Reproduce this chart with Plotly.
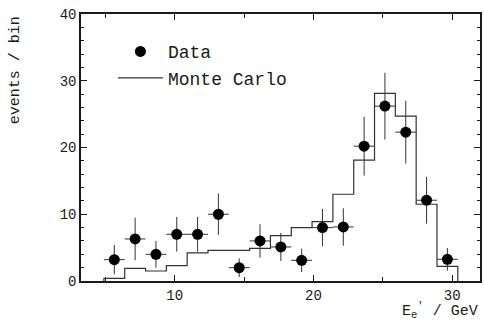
import plotly.graph_objects as go

# Data points (bin centres, values, errors)
data_x = [5.65, 7.15, 8.65, 10.15, 11.65, 13.15, 14.65, 16.15, 17.65, 19.15,
          20.65, 22.15, 23.65, 25.15, 26.65, 28.15, 29.65]
data_y = [3.2, 6.3, 4.0, 7.0, 7.0, 10.0, 2.0, 6.0, 5.1, 3.1,
          8.0, 8.1, 20.2, 26.2, 22.3, 12.1, 3.25]
data_err = [2.2, 3.2, 2.0, 2.6, 2.6, 3.1, 1.4, 2.5, 2.1, 1.75,
            2.8, 2.8, 4.4, 5.0, 4.7, 3.5, 1.7]
half_bin = [0.75] * len(data_x)

# Monte Carlo histogram (bin edges and contents)
mc_edges = [4.9, 6.4, 7.9, 9.4, 10.9, 12.4, 13.9, 15.4, 16.9, 18.4,
            19.9, 21.4, 22.9, 24.4, 25.9, 27.4, 28.9, 30.4]
mc_vals = [0.4, 1.9, 1.5, 2.3, 4.2, 4.6, 4.6, 4.9, 6.8, 8.0,
           8.9, 13.0, 18.1, 28.1, 24.7, 11.5, 2.2]

FONT = "Liberation Mono"
INK = "#1a1a1a"

mc_x = [mc_edges[0]] + mc_edges[:-1] + [mc_edges[-1]]
mc_y = [0] + mc_vals + [0]

fig = go.Figure()
fig.add_trace(go.Scatter(
    x=mc_x, y=mc_y, mode="lines", line=dict(shape="hv", color="#333", width=1.2),
    name="Monte Carlo", legendrank=2))
fig.add_trace(go.Scatter(
    x=data_x, y=data_y, mode="markers", name="Data", legendrank=1,
    marker=dict(color="black", size=11),
    error_y=dict(type="data", array=data_err, color="#333", thickness=1, width=0),
    error_x=dict(type="data", array=half_bin, color="#333", thickness=1, width=0)))

axis_common = dict(showline=True, linecolor=INK, linewidth=1.5, mirror="ticks",
                   ticks="inside", tickcolor=INK, tickwidth=1.2, showgrid=False,
                   zeroline=False, tickfont=dict(family=FONT, size=14, color=INK))
fig.update_xaxes(range=[3.25, 32], tickvals=[10, 20, 30], ticklen=6,
                 minor=dict(dtick=5, tick0=0, ticks="inside", ticklen=4, tickcolor=INK),
                 **axis_common)
fig.update_yaxes(range=[0, 40], tickvals=[0, 10, 20, 30, 40], ticklen=6,
                 minor=dict(dtick=2, tick0=0, ticks="inside", ticklen=3, tickcolor=INK),
                 **axis_common)

fig.update_layout(
    width=484, height=322,
    margin=dict(l=81, r=2, t=14, b=41),
    plot_bgcolor="white", paper_bgcolor="white",
    font=dict(family=FONT, color=INK),
    showlegend=True,
    legend=dict(x=0.08, y=0.928, xanchor="left", yanchor="top",
                bgcolor="rgba(0,0,0,0)", font=dict(family=FONT, size=18, color=INK),
                itemwidth=45, tracegroupgap=0),
    annotations=[
        dict(text="events / bin", xref="paper", yref="paper", x=-0.165, y=0.79,
             textangle=-90, showarrow=False, xanchor="center", yanchor="middle",
             font=dict(family=FONT, size=15, color=INK)),
        dict(text="E<sub>e</sub><sup>′</sup> / GeV", xref="paper", yref="paper",
             x=1, y=-0.112, xanchor="right", yanchor="middle", showarrow=False,
             font=dict(family=FONT, size=15, color=INK)),
    ],
)

fig.write_html("out.html")
